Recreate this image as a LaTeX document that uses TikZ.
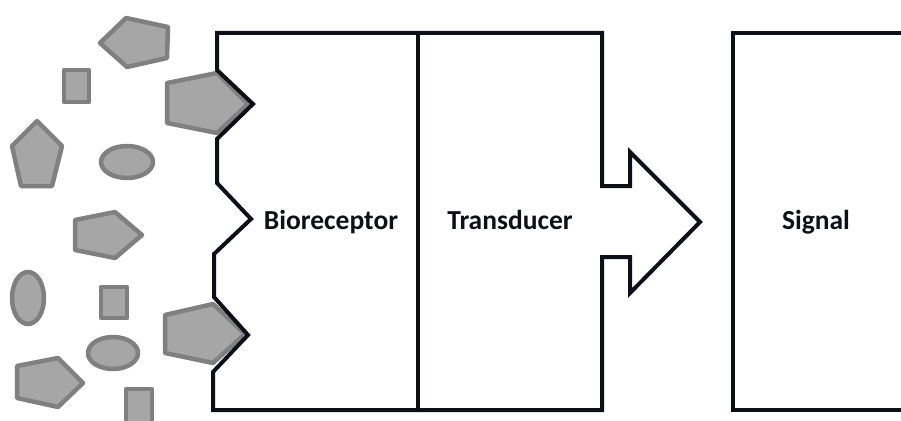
\documentclass[tikz,border=0pt]{standalone}
\usepackage{fontspec}
\setmainfont{Carlito}
\definecolor{ink}{HTML}{0D1117}
\definecolor{molfill}{HTML}{A6A6A6}
\definecolor{molline}{HTML}{808080}
\tikzset{
  mol/.style={fill=molfill, draw=molline, line width=4.5pt, line join=round},
  wall/.style={draw=ink, line width=4pt, line join=miter},
  lbl/.style={font=\fontsize{27.5}{32}\selectfont\bfseries, text=ink, inner sep=0pt, anchor=base}
}
\begin{document}
\begin{tikzpicture}[x=1pt,y=-1pt]
\useasboundingbox (0,0) rectangle (901,420);
% molecules
\draw[mol] (100,43) -- (126,18) -- (168,27) -- (167,58) -- (127,67) -- cycle;
\draw[mol] (64,70) rectangle (89,102);
\draw[mol] (167,83) -- (217,73) -- (248,104) -- (217,133) -- (167,123) -- cycle;
\draw[mol] (12,146) -- (37,121) -- (62,146) -- (52,186) -- (21,186) -- cycle;
\draw[mol] (127,162) ellipse (26 and 16);
\draw[mol] (75,220) -- (115,212) -- (142,235) -- (115,258) -- (75,250) -- cycle;
\draw[mol] (28,298) ellipse (16 and 26);
\draw[mol] (101,287) rectangle (127,318);
\draw[mol] (113,353) ellipse (25 and 16);
\draw[mol] (165,315) -- (213,304) -- (245,334) -- (213,363) -- (165,353) -- cycle;
\draw[mol] (17,366) -- (58,358) -- (83,383) -- (58,407) -- (17,398) -- cycle;
\draw[mol] (126,389) rectangle (152,430);
% bioreceptor
\draw[wall] (418,33) -- (217,33) -- (217,70) -- (253,104) -- (217,139) -- (217,183)
  -- (251,219) -- (214,254) -- (214,297) -- (248,335) -- (213,372) -- (213,410) -- (418,410);
% transducer
\draw[wall] (418,33) -- (418,410);
\draw[wall] (418,33) -- (602,33) -- (602,186) -- (630,186) -- (630,152) -- (700,222)
  -- (630,293) -- (630,257) -- (602,257) -- (602,410) -- (418,410);
% signal
\draw[wall] (910,33) -- (733,33) -- (733,410) -- (910,410);
% labels
\node[lbl] (bio) at (331,229.5) {Bioreceptor};
\node[lbl] (trans) at (510,229.5) {Transducer};
\node[lbl] (sig) at (816,229.5) {Signal};
\end{tikzpicture}
\end{document}
